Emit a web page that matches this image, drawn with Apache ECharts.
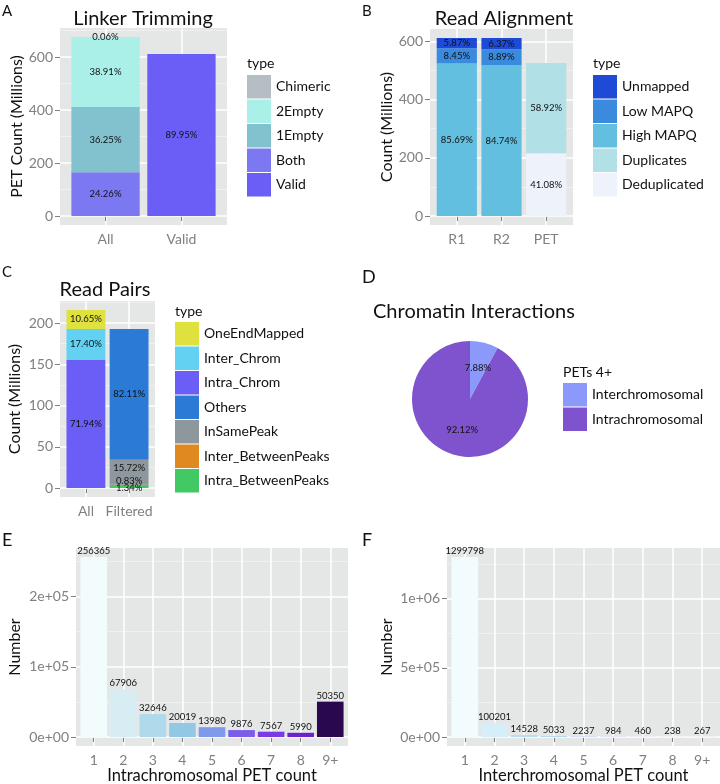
<!DOCTYPE html>
<html><head><meta charset="utf-8">
<script src="https://cdn.jsdelivr.net/npm/echarts@6/dist/echarts.min.js"></script>
<style>html,body{margin:0;padding:0;background:#fff}#c{width:720px;height:784px}</style>
</head><body><div id="c"></div>
<script>
// ---------- Panel A: Linker Trimming (millions) ----------
const catsA = ['All', 'Valid'];
const aValid    = [null, 611.7];
const aBoth     = [165.0, null];
const a1Empty   = [246.5, null];
const a2Empty   = [264.6, null];
const aChimeric = [0.4, null];
const aValidLbl    = ['', '89.95%'];
const aBothLbl     = ['24.26%', ''];
const a1EmptyLbl   = ['36.25%', ''];
const a2EmptyLbl   = ['38.91%', ''];
const aChimericLbl = ['0.06%', ''];
const aTicks = [0, 200, 400, 600];
const aMinor = [100, 300, 500, 700];

// ---------- Panel B: Read Alignment ----------
const catsB = ['R1', 'R2', 'PET'];
const bDedup    = [null, null, 216.1];
const bDup      = [null, null, 309.9];
const bHigh     = [524.4, 518.6, null];
const bLow      = [51.7, 54.4, null];
const bUnmapped = [35.9, 39.0, null];
const bDedupLbl    = ['', '', '41.08%'];
const bDupLbl      = ['', '', '58.92%'];
const bHighLbl     = ['85.69%', '84.74%', ''];
const bLowLbl      = ['8.45%', '8.89%', ''];
const bUnmappedLbl = ['5.87%', '6.37%', ''];
const bTicks = [0, 200, 400, 600];
const bMinor = [100, 300, 500];

// ---------- Panel C: Read Pairs ----------
const catsC = ['All', 'Filtered'];
const cIntraBP   = [null, 2.6];
const cInterBP   = [null, 1.6];
const cInSame    = [null, 30.3];
const cOthers    = [null, 158.5];
const cIntraChr  = [155.4, null];
const cInterChr  = [37.6, null];
const cOneEnd    = [23.0, null];
const cIntraBPLbl  = ['', '1.34%'];
const cInterBPLbl  = ['', '0.83%'];
const cInSameLbl   = ['', '15.72%'];
const cOthersLbl   = ['', '82.11%'];
const cIntraChrLbl = ['71.94%', ''];
const cInterChrLbl = ['17.40%', ''];
const cOneEndLbl   = ['10.65%', ''];
const cTicks = [0, 50, 100, 150, 200];
const cMinor = [25, 75, 125, 175, 225];

// ---------- Panel D: Chromatin Interactions ----------
const namesD = ['Interchromosomal', 'Intrachromosomal'];
const valsD = [7.88, 92.12];
const pctD = ['7.88%', '92.12%'];

// ---------- Panel E: Intrachromosomal PET count ----------
const catsE = ['1', '2', '3', '4', '5', '6', '7', '8', '9+'];
const valsE = [256365, 67906, 32646, 20019, 13980, 9876, 7567, 5990, 50350];
const eTicks = [0, 100000, 200000];
const eTickLbl = ['0e+00', '1e+05', '2e+05'];
const eMinor = [50000, 150000, 250000];

// ---------- Panel F: Interchromosomal PET count ----------
const catsF = ['1', '2', '3', '4', '5', '6', '7', '8', '9+'];
const valsF = [1299798, 100201, 14528, 5033, 2237, 984, 460, 238, 267];
const fTicks = [0, 500000, 1000000];
const fTickLbl = ['0e+00', '5e+05', '1e+06'];
const fMinor = [250000, 750000, 1250000];

// ---------- styles ----------
const FONT = 'Lato';
const PANEL = '#e5e6e6';
const GREYTXT = '#808080';
const colorsE = ['#f3fcfd','#d7edf3','#afdaec','#93c8e5','#7f9aea','#7c5de9','#7a3ae6','#6a22cf','#29084f'];
const colorsF = ['#f2fbfe','#d5eef9','#b7ddf0','#9ccbe8','#8aa5e6','#8069e2','#7a48dc','#6b2ec8','#2e0f52'];

const option = {
  animation: false,
  textStyle: { fontFamily: FONT },
  grid: [], xAxis: [], yAxis: [], series: [], legend: [], graphic: []
};

function stackTotals(list, n) {
  const t = new Array(n).fill(0);
  list.forEach(a => a.forEach((v, i) => { if (v != null) t[i] += v; }));
  return Math.max(...t);
}

function addPanel(P, cats, maxVal, majors, majorLbl, minors, yName, yNameGap, xName, xNameGap) {
  const n = cats.length;
  const yMin = -0.05 * maxVal, yMax = 1.05 * maxVal;
  const gi = option.grid.length;
  option.grid.push({ left: P.left, top: P.top, width: P.width, height: P.height, show: true,
    backgroundColor: PANEL, borderWidth: 0, containLabel: false, outerBoundsMode: 'none' });
  const band = P.width / (n + 0.2);
  option.grid.push({ left: P.left + 0.1 * band, top: P.top, width: n * band, height: P.height,
    show: false, containLabel: false, outerBoundsMode: 'none' });
  const centers = cats.map((c, i) => i + 1);
  const xi = option.xAxis.length;
  option.xAxis.push({
    type: 'value', gridIndex: gi, min: 0.4, max: n + 0.6,
    axisLine: { show: false },
    axisTick: { show: true, length: 5, customValues: centers, lineStyle: { color: GREYTXT, width: 1 } },
    axisLabel: { show: true, customValues: centers, margin: 7, color: GREYTXT, fontSize: 14,
      formatter: v => cats[Math.round(v) - 1] },
    splitLine: { show: true, lineStyle: { color: '#ffffff', width: 1.5 } },
    name: xName || '', nameLocation: 'middle', nameGap: xNameGap || 20, nameMoveOverlap: false,
    nameTextStyle: { fontSize: 16.5, color: '#111', fontFamily: FONT }
  });
  option.xAxis.push({ type: 'category', gridIndex: gi + 1, data: cats, show: false, boundaryGap: true });
  const yi = option.yAxis.length;
  option.yAxis.push({
    type: 'value', gridIndex: gi, min: yMin, max: yMax, z: 1,
    axisLine: { show: false },
    axisTick: { show: true, length: 5, customValues: majors, lineStyle: { color: GREYTXT, width: 1 } },
    axisLabel: { show: true, customValues: majors, margin: 7, color: GREYTXT, fontSize: 14,
      formatter: v => { const k = majors.indexOf(v); return majorLbl ? majorLbl[k] : String(v); } },
    splitLine: { show: true, lineStyle: { color: '#ffffff', width: 1.5 } },
    name: yName, nameLocation: 'middle', nameGap: yNameGap, nameRotate: 90, nameMoveOverlap: false,
    nameTextStyle: { fontSize: 16, color: '#111', fontFamily: FONT, verticalAlign: 'bottom' }
  });
  option.yAxis.push({
    type: 'value', gridIndex: gi, min: yMin, max: yMax, position: 'left', z: 0,
    axisLine: { show: false },
    axisTick: { show: false, customValues: minors },
    axisLabel: { show: false, customValues: minors },
    splitLine: { show: true, lineStyle: { color: '#f3f3f3', width: 0.8 } }
  });
  option.yAxis.push({ type: 'value', gridIndex: gi + 1, min: yMin, max: yMax, show: false,
    splitLine: { show: false } });
  return { x: xi + 1, y: yi + 2 };
}

function barSeries(name, vals, lbls, color, ax, stack, offset) {
  return {
    type: 'bar', name, stack, xAxisIndex: ax.x, yAxisIndex: ax.y,
    barWidth: '90%', barCategoryGap: '10%',
    itemStyle: { color, borderWidth: 0 },
    data: vals.map(v => (v == null ? '-' : v)),
    label: { show: true, position: 'inside', fontSize: 9.5, color: '#111', fontFamily: FONT,
      textBorderWidth: 0, offset: offset || [0, 0],
      formatter: p => lbls[p.dataIndex] || '' },
    emphasis: { disabled: true }, silent: true
  };
}

function legend(names, left, top) {
  return { data: names, orient: 'vertical', left, top, padding: 0,
    itemWidth: 24, itemHeight: 23.5, itemGap: 1, icon: 'rect', selectedMode: false,
    textStyle: { fontSize: 14, color: '#111', fontFamily: FONT } };
}

function txt(x, y, text, size, align, color) {
  return { type: 'text', x, y, silent: true,
    style: { text, fontSize: size, fontFamily: FONT, fill: color || '#111',
      align: align || 'left', verticalAlign: 'middle', textAlign: align || 'left', textVerticalAlign: 'middle' } };
}

// ----- Panel A -----
const axA = addPanel({ left: 60, top: 28, width: 167, height: 197 }, catsA,
  stackTotals([aValid, aBoth, a1Empty, a2Empty, aChimeric], 2), aTicks, null, aMinor,
  'PET Count (Millions)', 35);
option.series.push(
  barSeries('Valid', aValid, aValidLbl, '#6b5ef6', axA, 'A'),
  barSeries('Both', aBoth, aBothLbl, '#7c78f2', axA, 'A'),
  barSeries('1Empty', a1Empty, a1EmptyLbl, '#82c2cf', axA, 'A'),
  barSeries('2Empty', a2Empty, a2EmptyLbl, '#aaf0e9', axA, 'A'),
  barSeries('Chimeric', aChimeric, aChimericLbl, '#b5bec3', axA, 'A')
);
option.legend.push(legend(['Chimeric', '2Empty', '1Empty', 'Both', 'Valid'], 247, 75));

// ----- Panel B -----
const axB = addPanel({ left: 430, top: 29, width: 143, height: 196 }, catsB,
  stackTotals([bDedup, bDup, bHigh, bLow, bUnmapped], 3), bTicks, null, bMinor,
  'Count (Millions)', 35);
option.series.push(
  barSeries('Deduplicated', bDedup, bDedupLbl, '#edf2fb', axB, 'B'),
  barSeries('Duplicates', bDup, bDupLbl, '#b1e1e7', axB, 'B'),
  barSeries('High MAPQ', bHigh, bHighLbl, '#63bfe0', axB, 'B'),
  barSeries('Low MAPQ', bLow, bLowLbl, '#3a8ade', axB, 'B'),
  barSeries('Unmapped', bUnmapped, bUnmappedLbl, '#1f4ad6', axB, 'B')
);
option.legend.push(legend(['Unmapped', 'Low MAPQ', 'High MAPQ', 'Duplicates', 'Deduplicated'], 593, 75));

// ----- Panel C -----
const axC = addPanel({ left: 60, top: 301, width: 95, height: 196 }, catsC,
  stackTotals([cIntraBP, cInterBP, cInSame, cOthers, cIntraChr, cInterChr, cOneEnd], 2), cTicks, null, cMinor,
  'Count (Millions)', 37);
option.series.push(
  barSeries('Intra_BetweenPeaks', cIntraBP, cIntraBPLbl, '#43c963', axC, 'C', [0, 1]),
  barSeries('Inter_BetweenPeaks', cInterBP, cInterBPLbl, '#df891e', axC, 'C', [0, -4]),
  barSeries('InSamePeak', cInSame, cInSameLbl, '#8d979d', axC, 'C', [0, -4]),
  barSeries('Others', cOthers, cOthersLbl, '#2b7ad6', axC, 'C'),
  barSeries('Intra_Chrom', cIntraChr, cIntraChrLbl, '#6b5ef6', axC, 'C'),
  barSeries('Inter_Chrom', cInterChr, cInterChrLbl, '#63d1f1', axC, 'C'),
  barSeries('OneEndMapped', cOneEnd, cOneEndLbl, '#dfe23e', axC, 'C')
);
option.legend.push(legend(['OneEndMapped', 'Inter_Chrom', 'Intra_Chrom', 'Others', 'InSamePeak',
  'Inter_BetweenPeaks', 'Intra_BetweenPeaks'], 175, 322));

// ----- Panel D -----
const colorsD = ['#8b9afa', '#7e53cd'];
option.series.push({
  type: 'pie', center: [470, 399], radius: [0, 58], startAngle: 90, clockwise: true,
  silent: true, emphasis: { disabled: true },
  itemStyle: { borderWidth: 0 },
  data: namesD.map((nm, i) => ({ name: nm, value: valsD[i], itemStyle: { color: colorsD[i], borderWidth: 0 } })),
  label: { show: true, position: 'inside', fontSize: 9.5, color: '#111', fontFamily: FONT,
    textBorderWidth: 0, formatter: p => pctD[p.dataIndex] },
  labelLine: { show: false }
});
option.legend.push(legend(namesD, 563, 383));

// ----- Panel E -----
function histSeries(name, vals, colors, ax) {
  return {
    type: 'bar', name, xAxisIndex: ax.x, yAxisIndex: ax.y, barWidth: '90%', barCategoryGap: '10%',
    silent: true, emphasis: { disabled: true },
    data: vals.map((v, i) => ({ value: v, itemStyle: { color: colors[i] } })),
    label: { show: true, position: 'top', distance: 1, fontSize: 9.5, color: '#111', fontFamily: FONT,
      textBorderWidth: 0, formatter: p => String(vals[p.dataIndex]) }
  };
}
const axE = addPanel({ left: 76, top: 548, width: 272, height: 198 }, catsE,
  Math.max(...valsE), eTicks, eTickLbl, eMinor, 'Number', 53, 'Intrachromosomal PET count', 21);
option.series.push(histSeries('E', valsE, colorsE, axE));

// ----- Panel F -----
const axF = addPanel({ left: 447, top: 548, width: 273, height: 198 }, catsF,
  Math.max(...valsF), fTicks, fTickLbl, fMinor, 'Number', 52, 'Interchromosomal PET count', 21);
option.series.push(histSeries('F', valsF, colorsF, axF));

// ----- texts -----
option.graphic.push(
  txt(2, 11, 'A', 15), txt(362, 11, 'B', 15), txt(2, 272, 'C', 15),
  txt(362, 277, 'D', 18), txt(2, 540, 'E', 18), txt(362, 540, 'F', 18),
  txt(143, 19, 'Linker Trimming', 20, 'center'),
  txt(504, 19, 'Read Alignment', 20, 'center'),
  txt(105, 290, 'Read Pairs', 20, 'center'),
  txt(373, 312, 'Chromatin Interactions', 20, 'left'),
  txt(247, 63, 'type', 14), txt(593, 63, 'type', 14), txt(175, 311, 'type', 14),
  txt(563, 372, 'PETs 4+', 14)
);

const chart = echarts.init(document.getElementById('c'), null, { renderer: 'canvas' });
chart.setOption(option);
</script>
</body></html>
